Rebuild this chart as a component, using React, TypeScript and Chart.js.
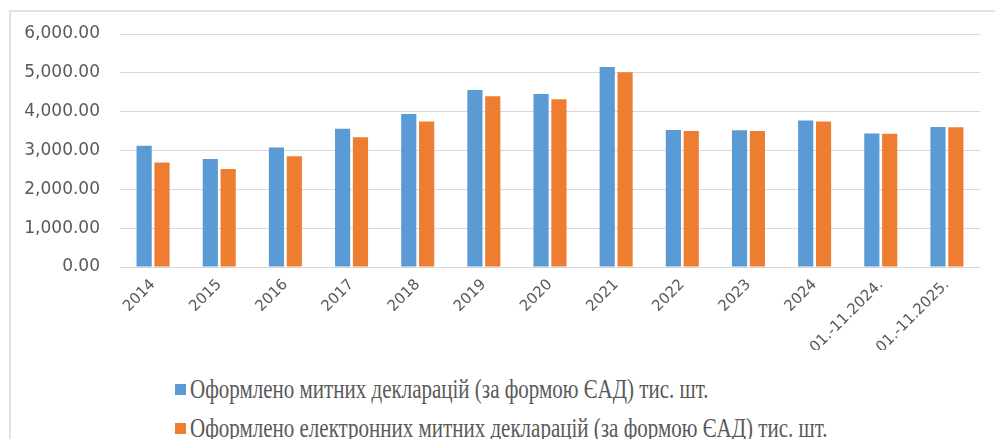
import React, { useEffect, useRef } from "react";
import { Chart, registerables } from "chart.js";

Chart.register(...registerables);

const categories = ["2014", "2015", "2016", "2017", "2018", "2019", "2020", "2021", "2022", "2023", "2024", "01.-11.2024.", "01.-11.2025."];
const declarations = [3120, 2780, 3080, 3560, 3940, 4560, 4455, 5150, 3530, 3520, 3770, 3440, 3605];
const electronicDeclarations = [2690, 2525, 2850, 3340, 3745, 4395, 4318, 5012, 3505, 3505, 3745, 3432, 3597];
const seriesNames = [
  "Оформлено митних декларацій (за формою ЄАД) тис. шт.",
  "Оформлено електронних митних декларацій (за формою ЄАД) тис. шт.",
];
const seriesColors = ["#5b9bd5", "#ed7d31"];

export default function App() {
  const ref = useRef<HTMLCanvasElement | null>(null);
  useEffect(() => {
    if (!ref.current) return;
    const chart = new Chart(ref.current, {
      type: "bar",
      data: {
        labels: categories,
        datasets: [
          { label: seriesNames[0], data: declarations, backgroundColor: seriesColors[0] },
          { label: seriesNames[1], data: electronicDeclarations, backgroundColor: seriesColors[1] },
        ],
      },
      options: {
        responsive: false,
        animation: false,
        devicePixelRatio: 1,
        datasets: { bar: { categoryPercentage: 0.54, barPercentage: 0.85 } },
        layout: { padding: { left: 0, right: 15, top: 34, bottom: 0 } },
        plugins: { legend: { display: false }, tooltip: { enabled: false } },
        scales: {
          x: {
            grid: { display: false, drawTicks: false },
            border: { display: false },
            ticks: {
              autoSkip: false,
              maxRotation: 45,
              minRotation: 45,
              padding: 9,
              color: "#595959",
              font: { family: "DejaVu Sans", size: 15 },
            },
            afterFit: (s: any) => { s.height = 83; },
          },
          y: {
            min: 0,
            max: 6000,
            grid: { color: "#d9d9d9", lineWidth: 1, drawTicks: false },
            border: { display: false },
            ticks: {
              stepSize: 1000,
              padding: 20,
              color: "#595959",
              font: { family: "DejaVu Sans", size: 17 },
              callback: (v: any) => Number(v).toLocaleString("en-US", { minimumFractionDigits: 2, maximumFractionDigits: 2 }),
            },
            afterFit: (s: any) => { s.width = 120; },
          },
        },
      },
    });
    return () => chart.destroy();
  }, []);

  return (
    <div style={{ position: "fixed", left: 0, top: 0, width: 995, height: 439, overflow: "hidden", background: "#fff" }}>
      <div style={{ position: "absolute", left: 9, top: 10, width: 1000, height: 500, border: "2px solid #e2e2e2" }} />
      <canvas ref={ref} width={995} height={350} style={{ position: "absolute", left: 0, top: 0, width: 995, height: 350 }} />
      {seriesNames.map((name, i) => (
        <div key={i} style={{ position: "absolute", left: 175, top: i === 0 ? 377 : 416, height: 24, display: "flex", alignItems: "center", whiteSpace: "nowrap", fontFamily: "'Times New Roman', 'Liberation Serif', Tinos, 'Noto Serif', 'DejaVu Serif', serif", fontSize: 21, color: "#595959" }}>
          <span style={{ display: "inline-block", width: 11, height: 11, background: seriesColors[i], marginRight: 4 }} />
          <span style={{ display: "inline-block", transform: "scaleY(1.25)" }}>{name}</span>
        </div>
      ))}
    </div>
  );
}
